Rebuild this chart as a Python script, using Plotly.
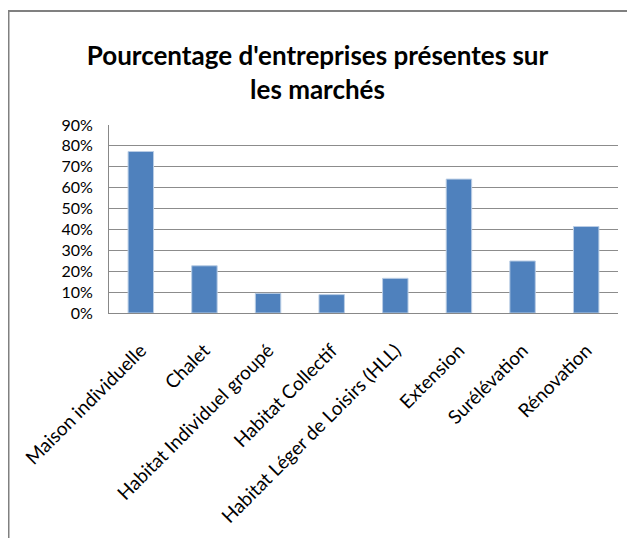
import plotly.graph_objects as go

categories = ["Maison individuelle", "Chalet", "Habitat Individuel groupé", "Habitat Collectif",
              "Habitat Léger de Loisirs (HLL)", "Extension", "Surélévation", "Rénovation"]
values = [0.773, 0.226, 0.094, 0.088, 0.166, 0.641, 0.249, 0.414]
tick_vals = [0, 0.1, 0.2, 0.3, 0.4, 0.5, 0.6, 0.7, 0.8, 0.9]
tick_text = ["0%", "10%", "20%", "30%", "40%", "50%", "60%", "70%", "80%", "90%"]

OFF = 8  # page body margin
W, H = 635 - OFF, 538 - OFF
L = 109 - OFF
T = 125 - OFF
R = W - (618 - OFF)
B = H - (313 - OFF)
pw = W - L - R
ph = H - T - B

fig = go.Figure(go.Bar(
    x=categories, y=values,
    marker=dict(color="#4F81BD", line=dict(color="#B9CDE5", width=1)),
))

fig.update_layout(
    width=W, height=H,
    margin=dict(l=L, r=R, t=T, b=B, pad=0),
    paper_bgcolor="white", plot_bgcolor="white",
    bargap=0.6,
    showlegend=False,
    font=dict(family="Lato, 'Open Sans', sans-serif", color="#000000"),
    title=dict(
        text="Pourcentage d'entreprises présentes sur<br>les marchés",
        x=(317.5 - OFF) / W, xanchor="center",
        y=1 - (65 - OFF) / H, yanchor="middle",
        font=dict(size=26, family="Lato, sans-serif", weight="bold", color="#000000"),
    ),
    xaxis=dict(
        tickangle=-45, tickfont=dict(size=19), showgrid=False,
        showline=True, linecolor="#888888", linewidth=1,
        ticks="", zeroline=False, ticklabelstandoff=18,
    ),
    yaxis=dict(
        range=[0, 0.9], tickvals=tick_vals, ticktext=tick_text,
        tickfont=dict(size=16), showgrid=True, gridcolor="#8C8C8C", gridwidth=1,
        showline=True, linecolor="#888888", linewidth=1,
        ticks="", ticklabelstandoff=12, zeroline=False,
    ),
    shapes=[
        dict(type="line", xref="paper", yref="paper",
             x0=(0.5 - L) / pw, x1=(0.5 - L) / pw, y0=(H - 3 - B) / ph, y1=-B / ph - 0.1,
             line=dict(color="#808080", width=2)),
        dict(type="line", xref="paper", yref="paper",
             x0=(0 - L) / pw, x1=1 + R / pw + 0.1, y0=(H - 3 - B) / ph, y1=(H - 3 - B) / ph,
             line=dict(color="#808080", width=2)),
    ],
)

fig.write_html("out.html")
